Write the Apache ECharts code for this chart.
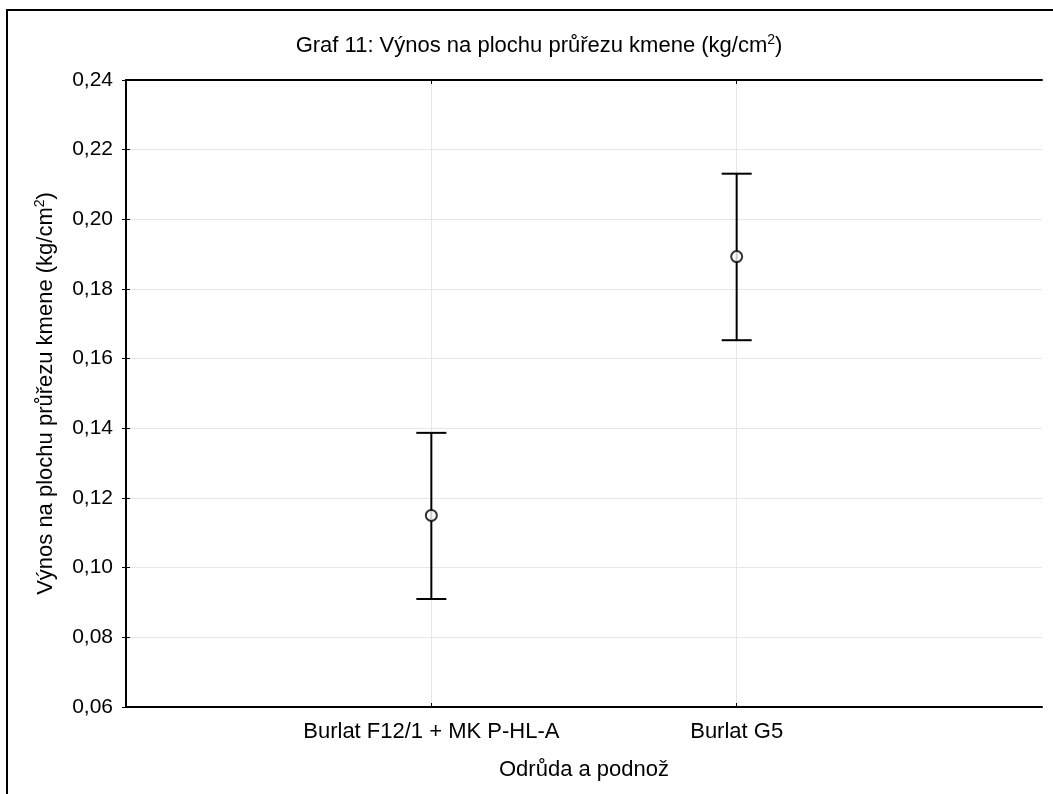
<!DOCTYPE html>
<html>
<head>
<meta charset="utf-8">
<script src="https://cdn.jsdelivr.net/npm/echarts@6/dist/echarts.min.js"></script>
<style>
  html, body { margin: 0; padding: 0; background: #fff; }
  #chart { width: 1053px; height: 794px; }
</style>
</head>
<body>
<div id="chart"></div>
<script>
// Variety / rootstock groups and their mean yield per trunk cross-section area
const categories = ['Burlat F12/1 + MK P-HL-A', 'Burlat G5'];
const means = [0.115, 0.1893];
const lowerBounds = [0.0910, 0.1653];
const upperBounds = [0.1387, 0.2131];
const yTicks = { min: 0.06, max: 0.24, step: 0.02 };

const FONT = '"Liberation Sans", Arial, Helvetica, sans-serif';
const TXT = 22;

const errorData = categories.map((c, i) => [i + 1, lowerBounds[i], upperBounds[i]]);
const pointData = categories.map((c, i) => [i + 1, means[i]]);
const catPositions = categories.map((c, i) => i + 1);

const chart = echarts.init(document.getElementById('chart'), null, { renderer: 'canvas' });

const axisLineStyle = { color: '#000', width: 2 };
const tickStyle = { color: '#000', width: 1 };
const gridStyle = { color: '#e6e6e6', width: 1 };

chart.setOption({
  animation: false,
  backgroundColor: '#fff',
  textStyle: { fontFamily: FONT, color: '#000' },
  graphic: [
    {
      type: 'rect',
      shape: { x: 7, y: 10, width: 1100, height: 900 },
      style: { fill: 'none', stroke: '#000', lineWidth: 2 },
      silent: true
    },
    {
      type: 'text',
      x: 539,
      y: 33,
      style: {
        text: '{a|Graf 11: Výnos na plochu průřezu kmene (kg/cm}{s|2}{a|)}',
        align: 'center',
        rich: {
          a: { fontSize: TXT, fontFamily: FONT, fill: '#000', lineHeight: 26 },
          s: { fontSize: 14, fontFamily: FONT, fill: '#000', lineHeight: 26, verticalAlign: 'top' }
        }
      }
    }
  ],
  grid: { left: 126, right: 11, top: 80, bottom: 87, containLabel: false },
  xAxis: [
    {
      type: 'value',
      min: 0,
      max: categories.length + 1,
      interval: 1,
      position: 'bottom',
      name: 'Odrůda a podnož',
      nameLocation: 'middle',
      nameGap: 52,
      nameTextStyle: { fontSize: TXT, fontFamily: FONT, color: '#000' },
      axisLine: { show: true, lineStyle: axisLineStyle },
      axisTick: { show: true, inside: true, length: 4, lineStyle: tickStyle, customValues: catPositions },
      axisLabel: {
        fontSize: TXT, fontFamily: FONT, color: '#000', margin: 14,
        customValues: catPositions,
        formatter: v => categories[v - 1] || ''
      },
      splitLine: { show: true, lineStyle: gridStyle }
    },
    {
      type: 'value',
      min: 0,
      max: categories.length + 1,
      interval: 1,
      position: 'top',
      axisLine: { show: true, lineStyle: axisLineStyle },
      axisTick: { show: true, inside: true, length: 4, lineStyle: tickStyle, customValues: catPositions },
      axisLabel: { show: false },
      splitLine: { show: false }
    }
  ],
  yAxis: [
    {
      type: 'value',
      min: yTicks.min,
      max: yTicks.max,
      interval: yTicks.step,
      position: 'left',
      name: '{a|Výnos na plochu průřezu kmene (kg/cm}{s|2}{a|)}',
      nameLocation: 'middle',
      nameRotate: 90,
      nameGap: 67,
      nameTextStyle: {
        rich: {
          a: { fontSize: TXT, fontFamily: FONT, color: '#000', lineHeight: 26 },
          s: { fontSize: 14, fontFamily: FONT, color: '#000', lineHeight: 26, verticalAlign: 'top' }
        }
      },
      axisLine: { show: true, lineStyle: axisLineStyle },
      axisTick: { show: true, inside: true, length: 4, lineStyle: tickStyle },
      axisLabel: {
        fontSize: 21, fontFamily: FONT, color: '#000', margin: 13,
        formatter: v => v.toFixed(2).replace('.', ',')
      },
      splitLine: { show: true, lineStyle: gridStyle }
    },
    {
      type: 'value',
      min: yTicks.min,
      max: yTicks.max,
      interval: yTicks.step,
      position: 'right',
      axisLine: { show: true, lineStyle: axisLineStyle },
      axisTick: { show: true, inside: true, length: 4, lineStyle: tickStyle },
      axisLabel: { show: false },
      splitLine: { show: false }
    }
  ],
  series: [
    {
      type: 'custom',
      xAxisIndex: 0,
      yAxisIndex: 0,
      data: errorData,
      renderItem: function (params, api) {
        const x = api.value(0);
        const lo = api.coord([x, api.value(1)]);
        const hi = api.coord([x, api.value(2)]);
        const half = 15;
        const style = { stroke: '#000', lineWidth: 2 };
        return {
          type: 'group',
          children: [
            { type: 'line', shape: { x1: lo[0], y1: lo[1], x2: hi[0], y2: hi[1] }, style },
            { type: 'line', shape: { x1: hi[0] - half, y1: hi[1], x2: hi[0] + half, y2: hi[1] }, style },
            { type: 'line', shape: { x1: lo[0] - half, y1: lo[1], x2: lo[0] + half, y2: lo[1] }, style }
          ]
        };
      },
      z: 3
    },
    {
      type: 'scatter',
      xAxisIndex: 0,
      yAxisIndex: 0,
      data: pointData,
      symbol: 'circle',
      symbolSize: 11,
      itemStyle: { color: '#fff', borderColor: '#000', borderWidth: 2 },
      z: 4
    }
  ]
});
</script>
</body>
</html>
